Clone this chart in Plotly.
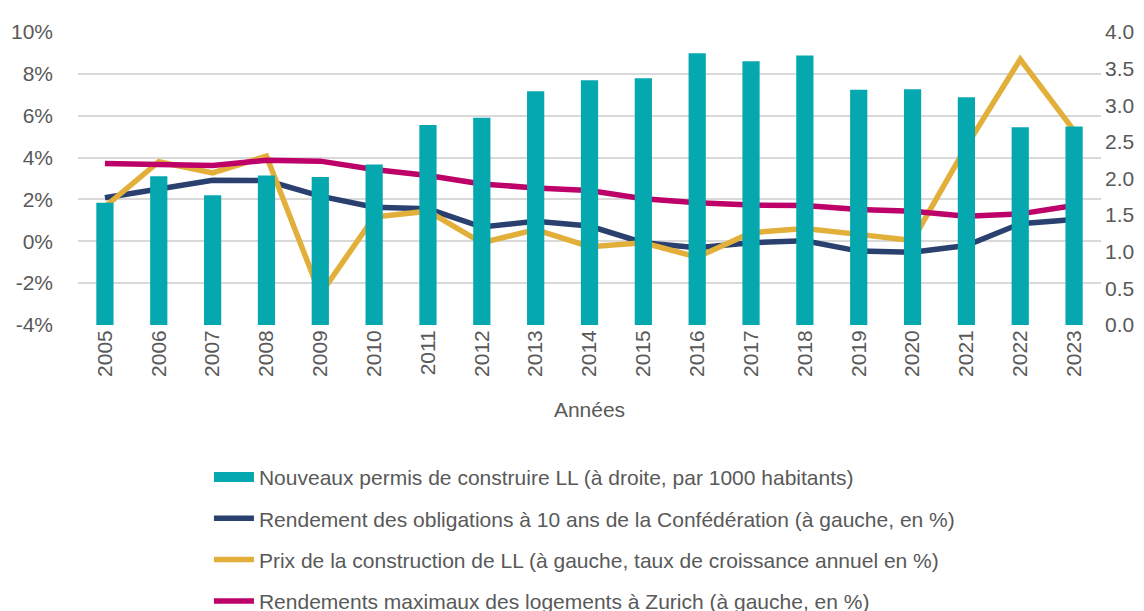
import plotly.graph_objects as go

years = [str(y) for y in range(2005, 2024)]
permits = [1.67, 2.03, 1.77, 2.04, 2.02, 2.19, 2.73, 2.83, 3.19, 3.34, 3.37, 3.71, 3.60, 3.68, 3.21, 3.22, 3.11, 2.70, 2.71]
bond_yield = [2.08, 2.51, 2.92, 2.90, 2.16, 1.63, 1.55, 0.68, 0.96, 0.73, -0.07, -0.31, -0.07, 0.02, -0.47, -0.52, -0.20, 0.84, 1.04]
constr_price = [1.65, 3.80, 3.27, 4.07, -2.54, 1.16, 1.44, -0.07, 0.56, -0.26, -0.07, -0.76, 0.41, 0.61, 0.33, 0.04, 4.55, 8.69, 5.29]
zurich_yield = [3.72, 3.67, 3.62, 3.87, 3.83, 3.43, 3.14, 2.74, 2.55, 2.43, 2.03, 1.84, 1.73, 1.71, 1.52, 1.44, 1.20, 1.31, 1.71]

left_ticks = [-4, -2, 0, 2, 4, 6, 8, 10]
left_labels = ["-4%", "-2%", "0%", "2%", "4%", "6%", "8%", "10%"]

names = [
    "Nouveaux permis de construire LL (à droite, par 1000 habitants)",
    "Rendement des obligations à 10 ans de la Confédération (à gauche, en %)",
    "Prix de la construction de LL (à gauche, taux de croissance annuel en %)",
    "Rendements maximaux des logements à Zurich (à gauche, en %)",
]
TEAL = "#06A8B0"
NAVY = "#2A416F"
GOLD = "#E2B03A"
MAGENTA = "#BE0168"
TXT = "#595959"
FONT = "Liberation Sans, Arial, sans-serif"
FS = 21

fig = go.Figure()
fig.add_trace(go.Bar(x=years, y=permits, yaxis="y2", marker=dict(color=TEAL, line=dict(width=0)),
                     width=0.32, showlegend=False, name=names[0]))
# legend entry for bars
fig.add_trace(go.Scatter(x=[None], y=[None], mode="lines", line=dict(color=TEAL, width=11),
                         name=names[0], legendgroup="a"))
fig.add_trace(go.Scatter(x=years, y=bond_yield, mode="lines", line=dict(color=NAVY, width=5.5),
                         name=names[1], legendgroup="b"))
fig.add_trace(go.Scatter(x=years, y=constr_price, mode="lines", line=dict(color=GOLD, width=5.5),
                         name=names[2], legendgroup="c"))
fig.add_trace(go.Scatter(x=years, y=zurich_yield, mode="lines", line=dict(color=MAGENTA, width=5.5),
                         name=names[3], legendgroup="d"))

fig.update_layout(
    width=1144, height=611,
    margin=dict(l=70, r=51, t=24, b=294, autoexpand=False),
    plot_bgcolor="white", paper_bgcolor="white",
    font=dict(family=FONT, size=FS, color=TXT),
    xaxis=dict(type="category", tickangle=-90, showgrid=False, ticks="", showline=False,
               title=dict(text="Années", font=dict(size=FS, color=TXT), standoff=26),
               tickfont=dict(size=FS, color=TXT)),
    yaxis=dict(range=[-4, 10], tickvals=left_ticks, ticktext=left_labels, showgrid=True,
               gridcolor="#D9D9D9", gridwidth=1.5, zeroline=False, ticks="",
               ticklabelstandoff=24, showline=False),
    yaxis2=dict(range=[0, 4], dtick=0.5, tickformat=".1f", overlaying="y", side="right",
                showgrid=False, zeroline=False, ticks="", ticklabelstandoff=3, showline=False),
    legend=dict(x=0.128, y=-0.45, xanchor="left", yanchor="top", traceorder="grouped",
                tracegroupgap=11, itemwidth=40, font=dict(size=FS, color=TXT),
                bgcolor="rgba(0,0,0,0)"),
    showlegend=True,
    bargap=0.68,
)

fig.write_html("out.html")
